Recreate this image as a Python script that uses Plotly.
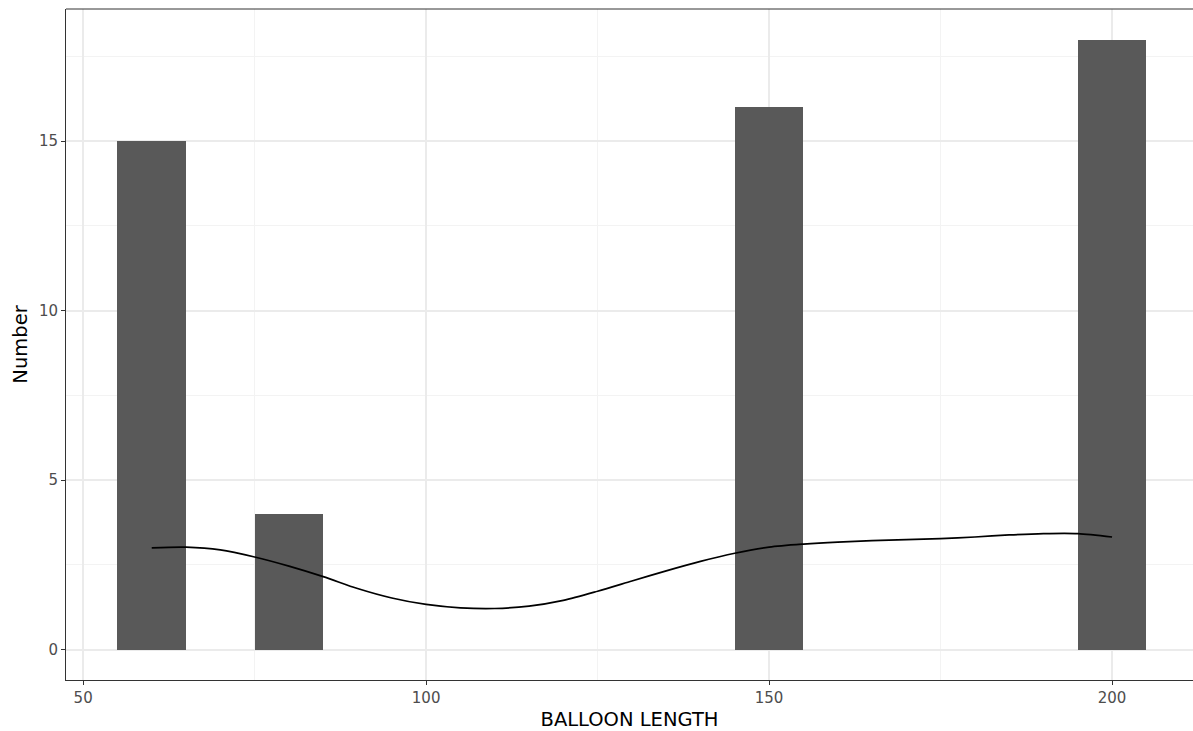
import plotly.graph_objects as go

# Counts per balloon length
lengths = [60, 80, 150, 200]
counts = [15, 4, 16, 18]

# Smoothed density curve (scaled to counts)
curve_x = [60, 65, 70, 75, 80, 85, 90, 95, 100, 105, 110, 115, 120, 125, 130,
           135, 140, 145, 150, 155, 160, 165, 170, 175, 180, 185, 190, 195, 200]
curve_y = [3.00, 3.02, 2.94, 2.73, 2.46, 2.15, 1.80, 1.52, 1.33, 1.23, 1.21, 1.28,
           1.45, 1.72, 2.02, 2.32, 2.60, 2.84, 3.02, 3.11, 3.17, 3.21, 3.24, 3.27,
           3.32, 3.38, 3.42, 3.42, 3.32]

x_ticks = [50, 100, 150, 200]
y_ticks = [0, 5, 10, 15]

fig = go.Figure()
fig.add_trace(go.Bar(
    x=lengths, y=counts, width=10,
    marker=dict(color="#595959", line=dict(width=0)),
    showlegend=False, hoverinfo="x+y",
))
fig.add_trace(go.Scatter(
    x=curve_x, y=curve_y, mode="lines",
    line=dict(color="black", width=1.7, shape="spline", smoothing=0.8),
    showlegend=False,
))

axis_common = dict(
    showgrid=True, gridcolor="#ebebeb", gridwidth=2,
    zeroline=False, showline=True, linecolor="#333333", linewidth=1,
    ticks="outside", ticklen=4, tickcolor="#333333", tickwidth=1,
    tickfont=dict(family="DejaVu Sans", size=15, color="#4d4d4d"),
    automargin=False,
)

fig.update_layout(
    width=1193, height=731,
    margin=dict(l=66, r=0, t=9, b=51),
    paper_bgcolor="white", plot_bgcolor="white",
    font=dict(family="DejaVu Sans"),
    bargap=0,
    xaxis=dict(
        **axis_common,
        range=[47.5, 211.8], tickvals=x_ticks,
        minor=dict(showgrid=True, gridcolor="#f3f3f3", gridwidth=1,
                   tickvals=[75, 125, 175], ticks=""),
        title=dict(text="BALLOON LENGTH", font=dict(size=19.5, color="black"), standoff=7),
    ),
    yaxis=dict(
        **axis_common,
        range=[-0.9, 18.9], tickvals=y_ticks,
        minor=dict(showgrid=True, gridcolor="#f3f3f3", gridwidth=1,
                   tickvals=[2.5, 7.5, 12.5, 17.5], ticks=""),
        title=dict(text="Number", font=dict(size=19.5, color="black"), standoff=6),
    ),
    shapes=[dict(type="line", xref="paper", yref="paper", x0=0, x1=1, y0=1, y1=1,
                 line=dict(color="#333333", width=1))],
)

fig.write_html("out.html")
